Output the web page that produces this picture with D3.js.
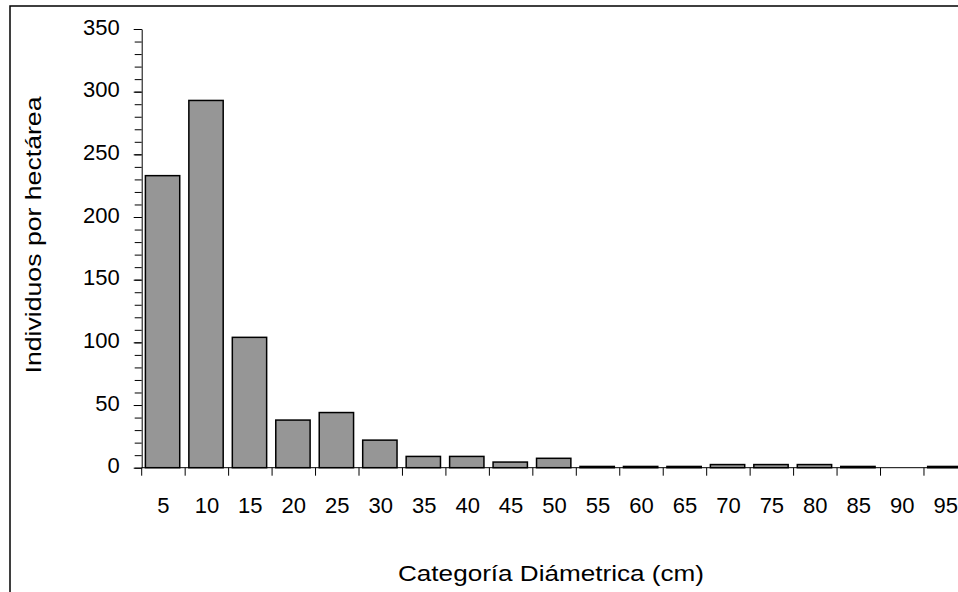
<!DOCTYPE html>
<html>
<head>
<meta charset="utf-8">
<script src="https://cdn.jsdelivr.net/npm/d3@7"></script>
<style>
  body { margin: 0; background: #fff; }
  svg { display: block; font-family: Arial, "Liberation Sans", sans-serif; }
</style>
</head>
<body>
<svg class="chart"></svg>
<script>
// diameter classes (cm) and stems per hectare
var categories = ['5', '10', '15', '20', '25', '30', '35', '40', '45', '50',
                  '55', '60', '65', '70', '75', '80', '85', '90', '95'];
var values = [233, 293, 104, 38, 44, 22, 9, 9, 4.5, 7.5,
              1, 1, 1, 2.5, 2.5, 2.5, 1, 0, 1];
var yTicks = [0, 50, 100, 150, 200, 250, 300, 350];

var width = 958,
    height = 592;

// plot box (note: "top" is taken by window.top)
var plotLeft = 141.7,
    plotBottom = 467.7,
    plotTop = 29,
    step = 43.46;

var fontSize = 22;

var svg = d3.select('.chart')
    .attr('width', width)
    .attr('height', height);

// outer frame, runs off the right and bottom of the picture
svg.append('rect')
    .attr('x', 10).attr('y', 6)
    .attr('width', 1000).attr('height', 700)
    .attr('fill', 'none')
    .attr('stroke', '#000')
    .attr('stroke-width', 1.5);

var x = d3.scaleBand()
    .domain(categories)
    .range([plotLeft, plotLeft + step * categories.length]);

var y = d3.scaleLinear()
    .domain([0, 350])
    .range([plotBottom, plotTop]);

// bars
svg.append('g')
    .selectAll('rect')
    .data(categories)
    .enter().append('rect')
        .attr('x', (d) => x(d) + x.bandwidth() * 0.085)
        .attr('width', x.bandwidth() * 0.79)
        .attr('y', (d, i) => y(values[i]))
        .attr('height', (d, i) => plotBottom - y(values[i]))
        .attr('fill', '#969696')
        .attr('stroke', '#000')
        .attr('stroke-width', 1.5);

// y axis: minor ticks every 10, major every 50
svg.append('g')
    .attr('transform', 'translate(' + plotLeft + ',0)')
    .call(d3.axisLeft(y).tickValues(d3.range(0, 351, 10)).tickSize(7).tickFormat(''))
    .call((g) => g.select('.domain').remove());

var yAxis = svg.append('g')
    .attr('transform', 'translate(' + plotLeft + ',0)')
    .call(d3.axisLeft(y).tickValues(yTicks).tickSize(8).tickPadding(14).tickSizeOuter(0));

yAxis.selectAll('text')
    .attr('font-size', fontSize)
    .attr('font-family', 'Arial, "Liberation Sans", sans-serif')
    .attr('dy', '0.24em')
    .attr('fill', '#000');

// x axis: ticks on the band edges, labels in the middle
svg.append('line')
    .attr('x1', plotLeft).attr('x2', width)
    .attr('y1', plotBottom).attr('y2', plotBottom)
    .attr('stroke', '#000');

svg.append('g')
    .selectAll('line')
    .data(categories)
    .enter().append('line')
        .attr('x1', (d) => x(d)).attr('x2', (d) => x(d))
        .attr('y1', plotBottom).attr('y2', plotBottom + 8)
        .attr('stroke', '#000');

svg.append('g')
    .selectAll('text')
    .data(categories)
    .enter().append('text')
        .attr('x', (d) => x(d) + x.bandwidth() / 2)
        .attr('y', 512.5)
        .attr('text-anchor', 'middle')
        .attr('font-size', fontSize)
        .text((d) => d);

svg.selectAll('.domain, .tick line').attr('stroke', '#000');

// axis titles
svg.append('text')
    .attr('x', 551)
    .attr('y', 581)
    .attr('text-anchor', 'middle')
    .attr('font-size', fontSize)
    .attr('textLength', 306)
    .attr('lengthAdjust', 'spacingAndGlyphs')
    .text('Categoría Diámetrica (cm)');

svg.append('text')
    .attr('transform', 'translate(41,235) rotate(-90)')
    .attr('text-anchor', 'middle')
    .attr('font-size', fontSize)
    .attr('textLength', 277)
    .attr('lengthAdjust', 'spacingAndGlyphs')
    .text('Individuos por hectárea');
</script>
</body>
</html>
